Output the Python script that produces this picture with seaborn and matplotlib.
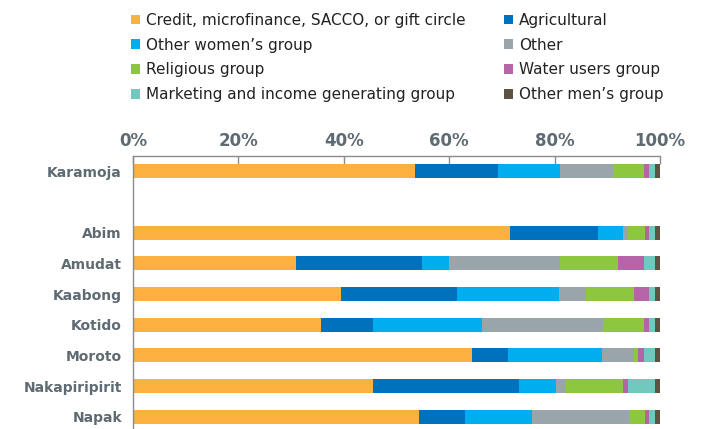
import numpy as np
import pandas as pd
import matplotlib.pyplot as plt
import seaborn as sns
from matplotlib.patches import Patch

regions = ["Karamoja", "Abim", "Amudat", "Kaabong", "Kotido", "Moroto", "Nakapiripirit", "Napak"]
order = ["Karamoja", " ", "Abim", "Amudat", "Kaabong", "Kotido", "Moroto", "Nakapiripirit", "Napak"]

credit = [53.5, 71.6, 31.0, 39.4, 35.6, 64.3, 45.5, 54.3]
agricultural = [15.8, 16.7, 23.9, 22.1, 9.9, 6.9, 27.8, 8.7]
other_women = [11.8, 4.7, 5.1, 19.3, 20.8, 17.8, 6.9, 12.7]
other = [10.0, 1.0, 21.0, 5.1, 22.8, 6.0, 1.9, 18.4]
religious = [5.9, 3.1, 11.0, 9.1, 7.9, 0.9, 10.9, 3.0]
water_users = [0.9, 0.8, 5.0, 2.9, 0.9, 1.1, 1.0, 0.8]
marketing = [1.1, 1.1, 2.0, 1.1, 1.1, 2.0, 5.0, 1.1]
other_men = [1.0, 1.0, 1.0, 1.0, 1.0, 1.0, 1.0, 1.0]

labels = [
    "Credit, microfinance, SACCO, or gift circle",
    "Agricultural",
    "Other women\u2019s group",
    "Other",
    "Religious group",
    "Water users group",
    "Marketing and income generating group",
    "Other men\u2019s group",
]
colors = ["#FBB040", "#0071BC", "#00AEEF", "#9AA4AB", "#8DC63F", "#B565A7", "#6FC9BF", "#5E5242"]

df = pd.DataFrame(
    [credit, agricultural, other_women, other, religious, water_users, marketing, other_men],
    index=labels, columns=regions,
).T
cum = df.cumsum(axis=1)
cum["region"] = cum.index

sns.set_style("white")
plt.rcParams["font.family"] = ["DejaVu Sans"]
grey = "#5F6B73"

fig = plt.figure(figsize=(7.07, 4.29), dpi=100)
ax = fig.add_axes([133 / 707, 0.0, 527 / 707, 1 - 156 / 429])

# stacked bars: draw cumulative totals back to front
for lab, col in reversed(list(zip(labels, colors))):
    sns.barplot(data=cum, x=lab, y="region", order=order, color=col,
                saturation=1, width=0.45, errorbar=None, linewidth=0, ax=ax)

ax.set_xlim(0, 100)
ax.set_ylim(8.4, -0.5)
ax.set_xlabel("")
ax.set_ylabel("")

ax.xaxis.tick_top()
ax.set_xticks(range(0, 101, 20))
ax.set_xticklabels([f"{v}%" for v in range(0, 101, 20)])
ax.tick_params(axis="x", direction="in", length=6, width=1, color="#8C8C8C",
               labelsize=12, labelcolor=grey, pad=4)
for t in ax.get_xticklabels():
    t.set_fontweight("bold")

ax.tick_params(axis="y", length=0, labelsize=10, labelcolor=grey, pad=8)
for t in ax.get_yticklabels():
    t.set_fontweight("bold")
ax.set_yticks(np.arange(0.5, 8, 1), minor=True)
ax.tick_params(axis="y", which="minor", direction="out", length=5, width=1, color="#8C8C8C")

for s in ["right", "bottom"]:
    ax.spines[s].set_visible(False)
for s in ["top", "left"]:
    ax.spines[s].set_color("#8C8C8C")
    ax.spines[s].set_linewidth(1)

handles = [Patch(facecolor=c, edgecolor="none") for c in colors]
handles = handles[0::2] + handles[1::2]
leg_labels = labels[0::2] + labels[1::2]
fig.legend(handles, leg_labels, loc="upper left", bbox_to_anchor=(117 / 707, 1 + 1 / 429),
           ncol=2, frameon=False, fontsize=11, handlelength=0.6, handleheight=0.6,
           handletextpad=0.4, columnspacing=2.5, labelspacing=0.64, labelcolor="#222222")

fig.savefig("out.png", dpi=100)
